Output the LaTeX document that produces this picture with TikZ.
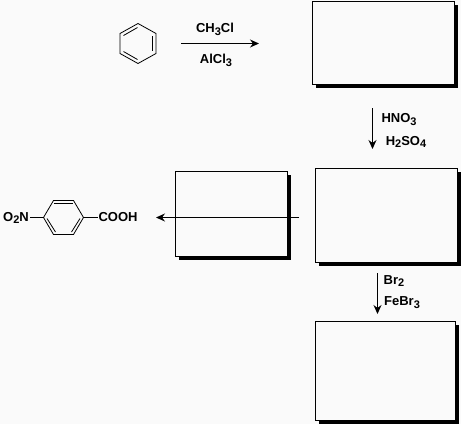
\documentclass[tikz,border=0pt]{standalone}
\usepackage{fontspec}
\setmainfont{Liberation Sans}
\usetikzlibrary{shadows,arrows.meta}
\newcommand{\sbs}[1]{\raisebox{-2.8pt}{\fontsize{11}{11}\selectfont #1}}
\tikzset{
  x=1pt,y=-1pt,
  answerbox/.style={draw=black,line width=1pt,fill=pagebg,inner sep=0pt,anchor=north west,
    drop shadow={shadow xshift=3.2pt,shadow yshift=-3.2pt,fill=black,opacity=1}},
  chemlabel/.style={inner sep=0pt,font=\fontsize{13}{13}\selectfont\bfseries},
  rxn/.style={line width=1pt,-{Stealth[length=9pt,width=8pt,inset=3pt]}},
  bond/.style={line width=0.8pt,line join=miter},
}
\definecolor{pagebg}{HTML}{FAFAFA}
\begin{document}
\begin{tikzpicture}
\fill[pagebg] (0,0) rectangle (461,424);
\useasboundingbox (0,0) rectangle (461,424);
% boxes
\node[answerbox,minimum width=142pt,minimum height=83pt] (b1) at (312,1) {};
\node[answerbox,minimum width=142pt,minimum height=94pt] (b2) at (315,168) {};
\node[answerbox,minimum width=140pt,minimum height=99pt] (b3) at (315,321) {};
\node[answerbox,minimum width=112pt,minimum height=85pt] (b4) at (175,171) {};
% benzene
\draw[bond] (138,23.5) -- (156,33.5) -- (156,53.5) -- (138,63.5) -- (120,53.5) -- (120,33.5) -- cycle;
\draw[bond] (123.5,35.5) -- (137.5,27.5);
\draw[bond] (152.5,36) -- (152.5,51);
\draw[bond] (123.5,51.5) -- (137.5,59.5);
% arrow 1
\coordinate (a1s) at (181,43.5);
\coordinate (a1e) at (259,43.5);
\draw[rxn] (a1s) -- (a1e);
\node[chemlabel] (l1) at (215,29.5) {CH\sbs{3}Cl};
\node[chemlabel] (l2) at (216,60) {AlCl\sbs{3}};
% arrow 2
\coordinate (a2s) at (372.5,108);
\coordinate (a2e) at (372.5,149);
\draw[rxn] (a2s) -- (a2e);
\node[chemlabel] (l3) at (399,119.5) {HNO\sbs{3}};
\node[chemlabel] (l4) at (406,142) {H\sbs{2}SO\sbs{4}};
% arrow 3
\coordinate (a3s) at (377.5,273);
\coordinate (a3e) at (377.5,314);
\draw[rxn] (a3s) -- (a3e);
\node[chemlabel] (l5) at (394,281) {Br\sbs{2}};
\node[chemlabel] (l6) at (402,302.5) {FeBr\sbs{3}};
% arrow 4
\coordinate (a4s) at (299,217.5);
\coordinate (a4e) at (156,217.5);
\draw[rxn] (a4s) -- (a4e);
% product
\node[chemlabel] (no2) at (16,218) {O\sbs{2}N};
\node[chemlabel] (cooh) at (118,217.5) {COOH};
\coordinate (r1) at (43.5,217.5);
\coordinate (r2) at (83.5,217.5);
\draw[bond] (r1) -- (53.5,200.5) -- (73.5,200.5) -- (r2) -- (73.5,234.5) -- (53.5,234.5) -- cycle;
\draw[bond] (54,203.5) -- (73,203.5);
\draw[bond] (47,218.5) -- (55.5,232);
\draw[bond] (80,218.5) -- (71.5,232);
\draw[bond] (no2.east |- r1) ++(1,0) -- (r1);
\draw[bond] (r2) -- (cooh.west |- r2);
\end{tikzpicture}
\end{document}
